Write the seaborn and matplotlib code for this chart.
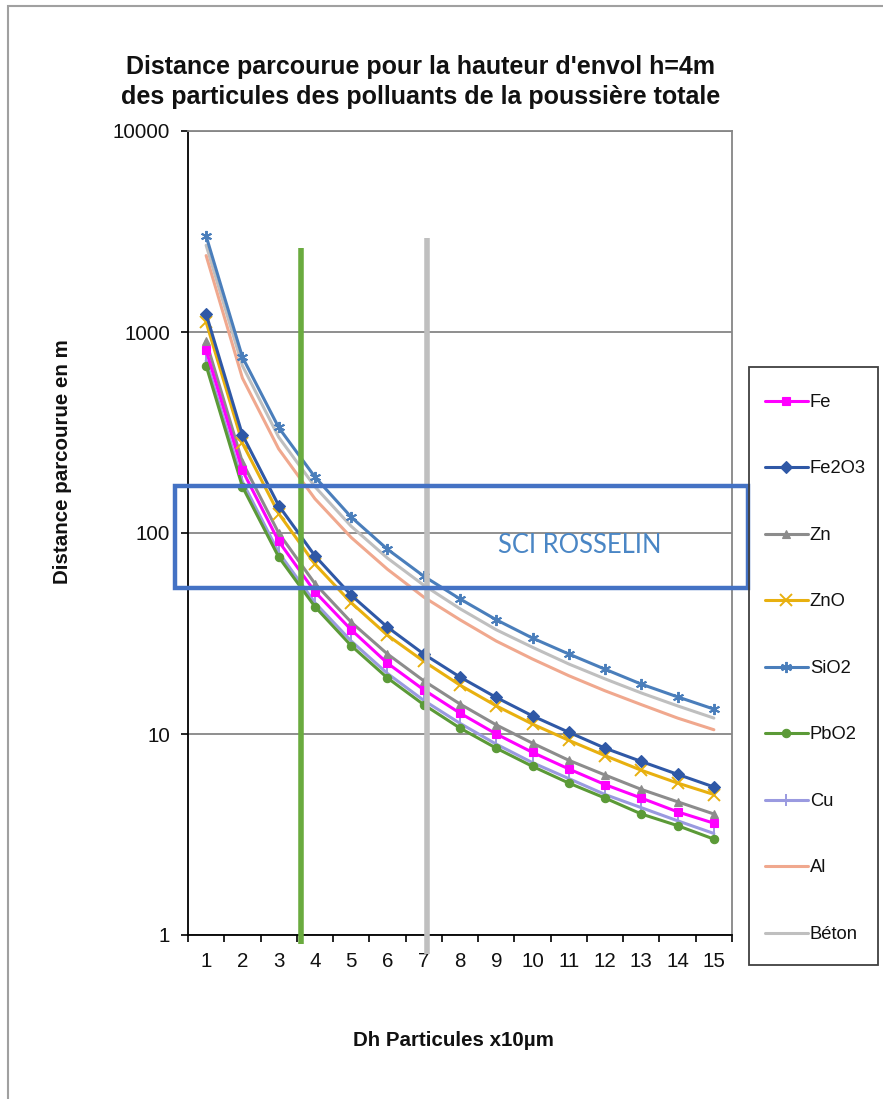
"""Distance parcourue par les particules - recreation"""
import numpy as np
import pandas as pd
import seaborn as sns
import matplotlib.pyplot as plt
from matplotlib.patches import Rectangle
from matplotlib.ticker import FixedLocator, FuncFormatter, NullFormatter

# diametre hydraulique (x10 µm)
diametres = list(range(1, 16))

fe = [810, 205, 91, 51, 33, 22.5, 16.6, 12.7, 10.0, 8.1, 6.7, 5.6, 4.8, 4.1, 3.6]
fe2o3 = [1230, 308, 137, 77, 49, 34, 25, 19.2, 15.2, 12.3, 10.2, 8.5, 7.3, 6.3, 5.45]
zn = [900, 225, 100, 56, 36, 25, 18.4, 14.1, 11.1, 9.0, 7.4, 6.25, 5.3, 4.6, 4.0]
zno = [1120, 280, 125, 70, 45, 31, 23, 17.5, 13.8, 11.2, 9.3, 7.8, 6.6, 5.7, 5.0]
sio2 = [3000, 750, 335, 190, 120, 83, 61, 47, 37, 30, 25, 21, 17.7, 15.3, 13.3]
pbo2 = [680, 170, 76, 43, 27.5, 19, 14, 10.7, 8.5, 6.9, 5.7, 4.8, 4.0, 3.5, 3.0]
cu = [720, 180, 80, 45, 29, 20, 14.7, 11.3, 8.9, 7.2, 6.0, 5.0, 4.3, 3.7, 3.2]
al = [2400, 590, 262, 148, 95, 66, 48, 37, 29, 23.6, 19.5, 16.4, 14.0, 12.0, 10.5]
beton = [2700, 680, 300, 170, 108, 75, 55, 42, 33, 27, 22.3, 18.8, 16.0, 13.8, 12.0]

series = {"Fe": fe, "Fe2O3": fe2o3, "Zn": zn, "ZnO": zno, "SiO2": sio2,
          "PbO2": pbo2, "Cu": cu, "Al": al, "Béton": beton}

styles = {
    "Fe": ("#FF00FF", "s"),
    "Fe2O3": ("#2F58A6", "D"),
    "Zn": ("#8C8C8C", "^"),
    "ZnO": ("#E8B00F", "x"),
    "SiO2": ("#4A7EBB", (6, 2, 0)),
    "PbO2": ("#5B9A37", "o"),
    "Cu": ("#9A9AE0", "|"),
    "Al": ("#F0A88E", None),
    "Béton": ("#BFBFBF", None),
}
draw_order = ["Béton", "Al", "SiO2", "Cu", "PbO2", "Zn", "Fe", "ZnO", "Fe2O3"]

df = pd.DataFrame([(k, d, v) for k, vals in series.items()
                   for d, v in zip(diametres, vals)],
                  columns=["element", "dh", "distance"])

sns.set_style("white")
plt.rcParams["font.family"] = ["Liberation Sans", "DejaVu Sans"]
plt.rcParams.update({"text.color": "#111111", "xtick.color": "#111111",
                     "ytick.color": "#111111", "axes.labelcolor": "#111111"})

fig = plt.figure(figsize=(8.83, 10.99), dpi=100)
ax = fig.add_axes([188 / 883, 1 - 935 / 1099, 544 / 883, 804 / 1099])

handles = {}
for name in draw_order:
    color, marker = styles[name]
    sub = df[df["element"] == name]
    small = marker in ("x", "|", (6, 2, 0))
    sns.lineplot(data=sub, x="dh", y="distance", ax=ax, color=color,
                 marker=marker, markersize=8 if small else 6,
                 markeredgecolor=color, markeredgewidth=1.4 if small else 0.8,
                 linewidth=2.2, label=name)
    handles[name] = ax.get_lines()[-1]
ax.get_legend().remove()

ax.set_yscale("log")
ax.set_ylim(1, 10000)
ax.set_xlim(0.5, 15.5)
ax.yaxis.set_major_locator(FixedLocator([1, 10, 100, 1000, 10000]))
ax.yaxis.set_major_formatter(FuncFormatter(lambda v, p: f"{v:.0f}"))
ax.yaxis.set_minor_locator(FixedLocator([]))
ax.xaxis.set_major_locator(FixedLocator(np.arange(0.5, 16, 1)))
ax.xaxis.set_major_formatter(NullFormatter())
ax.xaxis.set_minor_locator(FixedLocator(diametres))
ax.xaxis.set_minor_formatter(FuncFormatter(lambda v, p: f"{v:.0f}"))
ax.tick_params(axis="x", which="major", direction="out", length=5, width=1.2,
               color="#000000", bottom=True)
ax.tick_params(axis="x", which="minor", length=0, pad=12, labelsize=14.8)
ax.tick_params(axis="y", which="major", direction="out", length=5, width=1.2,
               color="#000000", left=True, pad=8, labelsize=14.8)
ax.grid(False)
ax.grid(True, axis="y", which="major", color="#868686", linewidth=1.3)
ax.set_xlabel("")
ax.set_ylabel("")
for side in ("left", "bottom"):
    ax.spines[side].set_color("#000000")
    ax.spines[side].set_linewidth(1.3)
for side in ("top", "right"):
    ax.spines[side].set_color("#868686")
    ax.spines[side].set_linewidth(1.3)

# lignes verticales
ax.plot([3.615, 3.615], [0.90, 2620], color="#6AAB3F", lw=4, clip_on=False,
        zorder=5, solid_capstyle="butt")
ax.plot([7.09, 7.09], [0.80, 2940], color="#BFBFBF", lw=4, clip_on=False,
        zorder=5, solid_capstyle="butt")

# cadre SCI ROSSELIN
ax.add_patch(Rectangle((0.142, 53.5), 15.8, 171 - 53.5, fill=False,
                       edgecolor="#4472C4", lw=3.2, clip_on=False, zorder=6))
ax.text(11.3, 87, "SCI ROSSELIN", color="#4A86C5", fontsize=18.4,
        family=["Lato", "DejaVu Sans"], ha="center", va="center")

fig.text(421 / 883, 1 - 82 / 1099,
         "Distance parcourue pour la hauteur d'envol h=4m\n"
         "des particules des polluants de la poussière totale",
         ha="center", va="center", fontsize=18, fontweight="bold",
         linespacing=1.3)
fig.text(62 / 883, 1 - 462 / 1099, "Distance parcourue en m", rotation=90,
         ha="center", va="center", fontsize=14.8, fontweight="bold")
fig.text(453 / 883, 1 - 1040 / 1099, "Dh Particules x10µm",
         ha="center", va="center", fontsize=14.8, fontweight="bold")

# legende : cadre dessine a part
order = ["Fe", "Fe2O3", "Zn", "ZnO", "SiO2", "PbO2", "Cu", "Al", "Béton"]
fig.legend([handles[n] for n in order], order, loc="upper left",
           bbox_to_anchor=(749 / 883, 1 - 378 / 1099), frameon=False,
           fontsize=13.2, labelspacing=2.70, handlelength=2.35,
           handletextpad=0.1, borderpad=0.87, borderaxespad=0)
fig.patches.append(Rectangle((749 / 883, 1 - 965 / 1099), 129 / 883,
                             598 / 1099, transform=fig.transFigure,
                             fill=False, edgecolor="#404040", lw=1.3))

# bordure du graphique
fig.patches.append(Rectangle((8 / 883, -0.1), 1.1, 1.1 - 6 / 1099,
                             transform=fig.transFigure, fill=False,
                             edgecolor="#A0A0A0", lw=1.5))

fig.savefig("out.png", dpi=100)
plt.close(fig)
